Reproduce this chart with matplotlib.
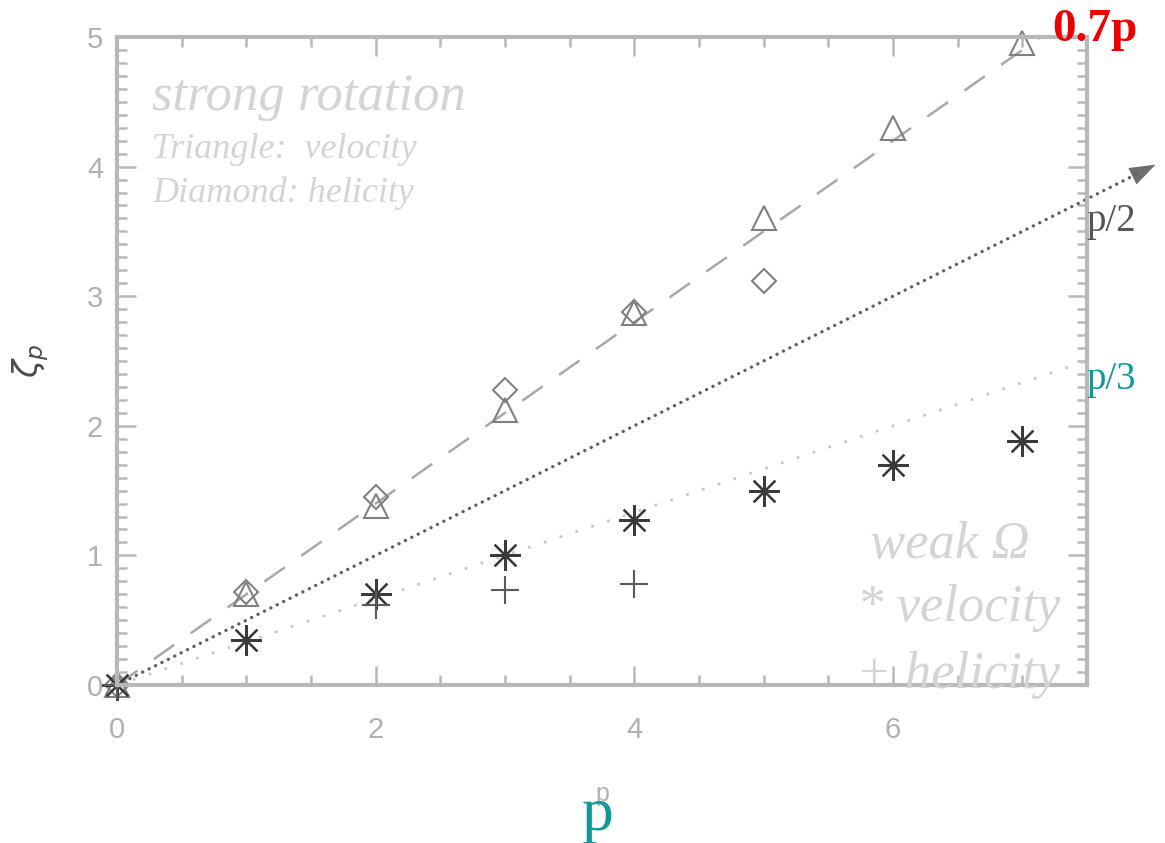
import matplotlib
matplotlib.use("Agg")
import matplotlib.pyplot as plt
from matplotlib.patches import FancyArrowPatch
from matplotlib.ticker import MultipleLocator

# Scaling exponents zeta_p versus order p
p_strong_vel = [0, 1, 2, 3, 4, 5, 6, 7]
zeta_strong_vel = [0.0, 0.70, 1.38, 2.12, 2.87, 3.60, 4.30, 4.95]
p_strong_hel = [0, 1, 2, 3, 4, 5]
zeta_strong_hel = [0.0, 0.72, 1.45, 2.28, 2.88, 3.12]
p_weak_vel = [0, 1, 2, 3, 4, 5, 6, 7]
zeta_weak_vel = [0.0, 0.35, 0.70, 1.00, 1.27, 1.50, 1.70, 1.88]
p_weak_hel = [0, 2, 3, 4]
zeta_weak_hel = [0.0, 0.62, 0.73, 0.78]

# Reference slopes
slope_k41_rot = 0.7
slope_half = 0.5
slope_k41 = 1.0 / 3.0

fig = plt.figure(figsize=(11.65, 8.43), dpi=100)
ax = fig.add_axes([117 / 1165, 1 - 685 / 843, (1087 - 117) / 1165, (685 - 37) / 843])
ax.set_xlim(0, 7.5)
ax.set_ylim(0, 5.0)

axis_grey = "#b8b8b8"
label_grey = "#b0b0b0"
for s in ax.spines.values():
    s.set_color(axis_grey)
    s.set_linewidth(3)
ax.xaxis.set_major_locator(MultipleLocator(2))
ax.xaxis.set_minor_locator(MultipleLocator(0.5))
ax.yaxis.set_major_locator(MultipleLocator(1))
ax.yaxis.set_minor_locator(MultipleLocator(0.1))
ax.tick_params(which="both", direction="in", top=True, right=True, color=axis_grey,
               labelcolor=label_grey, labelsize=21)
ax.tick_params(which="major", length=14, width=1.8)
ax.tick_params(axis="x", which="major", pad=22)
ax.tick_params(axis="y", which="major", pad=10)
ax.tick_params(which="minor", length=7, width=1.8)
for lbl in ax.get_xticklabels() + ax.get_yticklabels():
    lbl.set_family("Liberation Sans")

# Reference lines
xs = [0, 5.0 / slope_k41_rot]
ax.plot(xs, [slope_k41_rot * x for x in xs], color="#a8a8a8", lw=1.8, dashes=(10, 8))
xt = [0, 7.5]
ax.plot(xt, [slope_k41 * x for x in xt], color="#c8c8c8", lw=2.0, ls=(0, (1, 5)))

# p/2 reference drawn as a dotted line with an arrowhead past the frame
x_end = 8.03
ax.plot([0, x_end - 0.12], [0, slope_half * (x_end - 0.12)], color="#606060", lw=2.4,
        ls=(0, (0.05, 2.1)), dash_capstyle="round", clip_on=False)
head = FancyArrowPatch((x_end - 0.5, slope_half * (x_end - 0.5)),
                       (x_end, slope_half * x_end),
                       arrowstyle="-|>,head_length=0.62,head_width=0.22",
                       mutation_scale=30, color="#6e6e6e", lw=0,
                       shrinkA=0, shrinkB=0, clip_on=False)
ax.add_patch(head)

# Data markers
ax.plot(p_strong_vel, zeta_strong_vel, ls="none", marker="^", ms=17, mfc="none",
        mec="#808080", mew=1.5, clip_on=False)
ax.plot(p_strong_hel, zeta_strong_hel, ls="none", marker="D", ms=12, mfc="none",
        mec="#808080", mew=1.5, clip_on=False)
ax.plot(p_weak_vel, zeta_weak_vel, ls="none", marker=(8, 2, 0), ms=22,
        mec="#3a3a3a", mew=1.6, clip_on=False)
ax.plot(p_weak_hel, zeta_weak_hel, ls="none", marker="+", ms=20,
        mec="#5a5a5a", mew=1.5, clip_on=False)

ax.set_xlabel("p", color=label_grey, fontsize=18, labelpad=28, family="Liberation Sans")
ax.set_ylabel(r"$\zeta_p$", color="#4a4a4a", fontsize=24, labelpad=26, rotation=90)

serif = "Liberation Serif"
light = "#d4d4d4"
fig.text(152 / 1165, 1 - 97 / 843, "strong rotation", family=serif, style="italic",
         color=light, fontsize=38, va="center", ha="left")
fig.text(152 / 1165, 1 - 150 / 843, "Triangle:  velocity", family=serif, style="italic",
         color=light, fontsize=26, va="center", ha="left")
fig.text(152 / 1165, 1 - 193 / 843, "Diamond: helicity", family=serif, style="italic",
         color=light, fontsize=26, va="center", ha="left")
fig.text(1030 / 1165, 1 - 545 / 843, "weak \u03a9", family=serif, style="italic",
         color=light, fontsize=38, va="center", ha="right")
fig.text(1060 / 1165, 1 - 608 / 843, "* velocity", family=serif, style="italic",
         color=light, fontsize=38, va="center", ha="right")
fig.text(1060 / 1165, 1 - 675 / 843, "+ helicity", family=serif, style="italic",
         color=light, fontsize=38, va="center", ha="right")

fig.text(1095 / 1165, 1 - 30 / 843, "0.7p", family=serif, weight="bold",
         color="#ee0000", fontsize=34, va="center", ha="center")
fig.text(1111 / 1165, 1 - 222 / 843, "p/2", family=serif,
         color="#555555", fontsize=28, va="center", ha="center")
fig.text(1111 / 1165, 1 - 380 / 843, "p/3", family=serif,
         color="#11999a", fontsize=28, va="center", ha="center")
fig.text(598 / 1165, 1 - 815 / 843, "p", family=serif,
         color="#11999a", fontsize=46, va="center", ha="center")

fig.savefig("out.png", dpi=100)
